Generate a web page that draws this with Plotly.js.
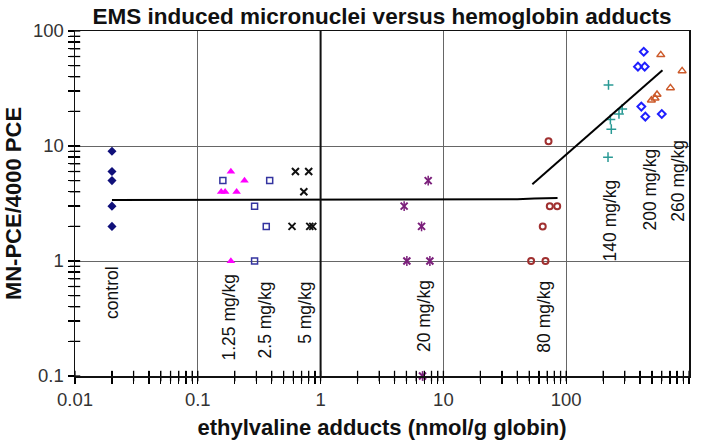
<!DOCTYPE html>
<html><head><meta charset="utf-8">
<script src="https://cdn.plot.ly/plotly-3.0.1.min.js"></script>
<style>html,body{margin:0;padding:0;background:#fff;}#chart{width:709px;height:440px;}</style>
</head><body><div id="chart"></div>
<script>
// ---- data ----
const controlX = [0.02, 0.02, 0.02, 0.02, 0.02];
const controlY = [9, 6, 5, 3, 2];
const d125X = [0.186, 0.240, 0.155, 0.167, 0.207, 0.186];
const d125Y = [6, 5, 4, 4, 4, 1];
const d25X = [0.160, 0.385, 0.290, 0.361, 0.290];
const d25Y = [5, 5, 3, 2, 1];
const d5X = [0.624, 0.800, 0.730, 0.585, 0.816, 0.863];
const d5Y = [6, 6, 4, 2, 2, 2];
const d20X = [7.52, 4.79, 6.64, 5.04, 7.76, 6.76];
const d20Y = [5, 3, 2, 1, 1, 0.1];
const d80X = [71.8, 73.5, 84.5, 64.4, 51.8, 67.8];
const d80Y = [11, 3, 3, 2, 1, 1];
const d140X = [221, 286, 269, 229, 233, 219];
const d140Y = [34, 21, 19, 17, 14, 8];
const d200X = [428, 384, 436, 409, 441, 600];
const d200Y = [66, 49, 49, 22, 18, 19];
const d260X = [589, 879, 706, 549, 529, 494];
const d260Y = [62, 45, 32, 28, 26, 25];
const lowFitX = [0.02, 1, 10, 40, 55, 85];
const lowFitY = [3.40, 3.40, 3.41, 3.44, 3.50, 3.53];
const highFitX = [53, 608];
const highFitY = [4.66, 45.6];
const doseLabels = ['control', '1.25 mg/kg', '2.5 mg/kg', '5 mg/kg', '20 mg/kg', '80 mg/kg', '140 mg/kg', '200 mg/kg', '260 mg/kg'];
const xTickVals = [0.01, 0.1, 1, 10, 100, 1000];
const xTickText = ['0.01', '0.1', '1', '10', '100', '1000'];
const yTickVals = [0.1, 1, 10, 100];
const yTickText = ['0.1', '1', '10', '100'];

// ---- layout helpers ----
const FONT = 'Liberation Sans, Arial, sans-serif';
function allTicks(vals, text) {
  const v = [], t = [];
  for (let i = 0; i < vals.length; i++) {
    v.push(vals[i]); t.push(text[i]);
    if (i < vals.length - 1) for (let k = 2; k <= 9; k++) { v.push(vals[i] * k); t.push(''); }
  }
  return {v: v, t: t};
}
const xAll = allTicks(xTickVals, xTickText);
const yAll = allTicks(yTickVals, yTickText);
// label positions (log10 units of the axes), kept apart from the data
const labelPos = [
  [-1.70, -0.27], [-0.749, -0.486], [-0.450, -0.514], [-0.129, -0.453],
  [0.841, -0.48], [1.823, -0.48], [2.353, 0.349], [2.680, 0.619], [2.909, 0.697]
];

function pts(x, y, marker) {
  return {type: 'scatter', mode: 'markers', x: x, y: y, marker: marker, cliponaxis: false, hoverinfo: 'x+y'};
}
const traces = [
  pts(controlX, controlY, {symbol: 'diamond', size: 7, color: '#10107a'}),
  pts(d125X, d125Y, {symbol: 'triangle-up', size: 7.5, color: '#ff00ff'}),
  pts(d25X, d25Y, {symbol: 'square-open', size: 6, color: '#3434a0', line: {width: 1.5, color: '#3434a0'}}),
  pts(d5X, d5Y, {symbol: 'x-thin-open', size: 7, color: '#111', line: {width: 2, color: '#111'}}),
  pts(d20X, d20Y, {symbol: 'x-thin-open', size: 7, color: '#7b1f7b', line: {width: 2, color: '#7b1f7b'}}),
  pts(d20X, d20Y, {symbol: 'line-ns-open', size: 7, color: '#7b1f7b', line: {width: 1.5, color: '#7b1f7b'}}),
  pts(d80X, d80Y, {symbol: 'circle-open', size: 6, color: '#a03030', line: {width: 2, color: '#a03030'}}),
  pts(d140X, d140Y, {symbol: 'cross-thin-open', size: 7, color: '#2a9a95', line: {width: 1.5, color: '#2a9a95'}}),
  pts(d200X, d200Y, {symbol: 'diamond-open', size: 6, color: '#1f1fff', line: {width: 2, color: '#1f1fff'}}),
  pts(d260X, d260Y, {symbol: 'triangle-up-open', size: 7, color: '#cc5a2a', line: {width: 1.5, color: '#cc5a2a'}}),
  {type: 'scatter', mode: 'lines', x: lowFitX, y: lowFitY, line: {color: '#000', width: 2}, hoverinfo: 'skip'},
  {type: 'scatter', mode: 'lines', x: highFitX, y: highFitY, line: {color: '#000', width: 2}, hoverinfo: 'skip'},
  // crossing tick marks along both axes (major + minor decade ticks)
  {type: 'scatter', mode: 'markers', x: xAll.v, y: xAll.v.map(() => yTickVals[0]),
   marker: {symbol: 'line-ns-open', size: 7.5, color: '#111', line: {width: 1.3, color: '#111'}},
   cliponaxis: false, hoverinfo: 'skip'},
  {type: 'scatter', mode: 'markers', x: yAll.v.map(() => xTickVals[0]), y: yAll.v,
   marker: {symbol: 'line-ew-open', size: 7.5, color: '#111', line: {width: 1.3, color: '#111'}},
   cliponaxis: false, hoverinfo: 'skip'},
  {type: 'scatter', mode: 'markers', x: [], y: [], xaxis: 'x2', yaxis: 'y2', hoverinfo: 'skip'},
  {type: 'scatter', mode: 'markers', x: [], y: [], xaxis: 'x3', yaxis: 'y3', hoverinfo: 'skip'}
];

const tickFont = {family: FONT, size: 18.5, color: '#333'};
const titleFont = {family: FONT, size: 22, color: '#111'};
function mainAxis(range, all, title) {
  return {
    type: 'log', range: range, tickmode: 'array', tickvals: all.v, ticktext: all.t,
    ticks: 'outside', ticklen: 6, tickcolor: '#000', tickwidth: 1.3,
    showgrid: false,
    showline: true, linecolor: '#111', linewidth: 1.5, mirror: true, zeroline: false,
    tickfont: tickFont,
    title: {text: title, font: titleFont}
  };
}
function tickOverlay(range, all, over, anchor, side) {
  return {
    type: 'log', range: range, overlaying: over, anchor: anchor, side: side,
    tickmode: 'array', tickvals: all.v, ticks: 'inside', ticklen: 5, tickcolor: '#000', tickwidth: 1.3,
    showticklabels: false, showgrid: false, showline: false, zeroline: false
  };
}
function gridOverlay(range, vals, over, anchor, side) {
  return {
    type: 'log', range: range, overlaying: over, anchor: anchor, side: side,
    tickmode: 'array', tickvals: vals, ticks: '', showticklabels: false,
    showgrid: true, gridcolor: '#666', gridwidth: 1, showline: false, zeroline: false
  };
}

const layout = {
  width: 709, height: 440,
  margin: {l: 75, r: 20, t: 31, b: 64},
  paper_bgcolor: '#fff', plot_bgcolor: '#fff',
  showlegend: false,
  font: {family: FONT, color: '#111'},
  title: {
    text: '<b>EMS induced micronuclei versus hemoglobin adducts</b>',
    font: {family: FONT, size: 22.5, color: '#111'},
    x: 0.5, xref: 'paper', xanchor: 'center', y: 1 - 16.5 / 440, yref: 'container', yanchor: 'middle'
  },
  xaxis: mainAxis([-2, 3], xAll, '<b>ethylvaline adducts (nmol/g globin)</b>'),
  yaxis: mainAxis([-1, 2], yAll, '<b>MN-PCE/4000 PCE</b>'),
  xaxis2: tickOverlay([-2, 3], xAll, 'x', 'y2', 'bottom'),
  yaxis2: tickOverlay([-1, 2], yAll, 'y', 'x2', 'left'),
  xaxis3: gridOverlay([-2, 3], xTickVals, 'x', 'y3', 'bottom'),
  yaxis3: gridOverlay([-1, 2], yTickVals, 'y', 'x3', 'left'),
  shapes: [{type: 'line', xref: 'x', yref: 'paper', x0: 1, x1: 1, y0: 0, y1: 1, line: {color: '#111', width: 2}}],
  annotations: doseLabels.map((t, i) => ({
    text: t, x: labelPos[i][0], y: labelPos[i][1], xref: 'x', yref: 'y',
    showarrow: false, textangle: -90, xanchor: 'center', yanchor: 'middle',
    font: {family: FONT, size: 17.5, color: '#111'}
  }))
};

Plotly.newPlot('chart', traces, layout, {staticPlot: true, displayModeBar: false});
</script>
</body></html>
